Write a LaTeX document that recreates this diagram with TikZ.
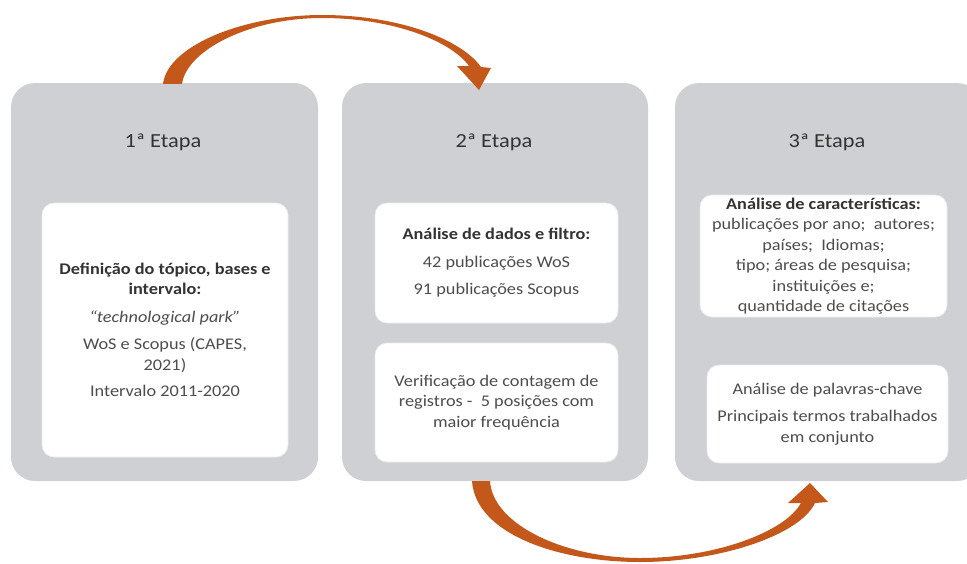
\documentclass[tikz,border=0pt]{standalone}
\usepackage{fontspec}
\setmainfont{Carlito}[FakeStretch=1.12]
\usetikzlibrary{calc}
\definecolor{panelgray}{HTML}{CFD0D3}
\definecolor{arrowc}{HTML}{C4581B}
\definecolor{txt}{HTML}{4D4D4D}
\definecolor{txtb}{HTML}{333333}
\begin{document}
\begin{tikzpicture}[x=1pt,y=-1pt,
  panel/.style={rectangle, rounded corners=24pt, fill=panelgray, draw=none, inner sep=0pt},
  inbox/.style={rectangle, rounded corners=12pt, fill=white, draw=gray!15, line width=0.6pt,
    inner sep=0pt, align=center, text=txt, font=\fontsize{16.3}{20.5}\selectfont},
  title/.style={anchor=base, text=txtb, font=\fontsize{20}{22}\selectfont},
  hd/.style={text=txtb}]
\useasboundingbox (0,0) rectangle (967,563);
% panels
\node[panel, minimum width=307pt, minimum height=398pt] (p1) at (164.5,282) {};
\node[panel, minimum width=306pt, minimum height=398pt] (p2) at (495,282) {};
\node[panel, minimum width=306pt, minimum height=398pt] (p3) at (828,282) {};
% titles
\node[title] (t1) at (163,147) {1ª Etapa};
\node[title] (t2) at (494,147) {2ª Etapa};
\node[title] (t3) at (827,147) {3ª Etapa};
% inner boxes
\node[inbox, minimum width=246pt, minimum height=254pt] (b1) at (165,330)
  {\textbf{\color{txtb}Definição do tópico, bases e}\\\textbf{\color{txtb}intervalo:}\\[7pt]
   \textit{“technological park”}\\[7pt]
   WoS e Scopus (CAPES,\\2021)\\[6pt]
   Intervalo 2011-2020};
\node[inbox, minimum width=243pt, minimum height=120pt] (b2a) at (496.5,263)
  {\textbf{\color{txtb}Análise de dados e filtro:}\\[7pt]
   42 publicações WoS\\[7pt]
   91 publicações Scopus};
\node[inbox, minimum width=243pt, minimum height=119pt] (b2b) at (496.5,402.5)
  {Verificação de contagem de\\registros -\ \ 5 posições com\\maior frequência};
\node[inbox, minimum width=247pt, minimum height=122pt] (b3a) at (823.5,256)
  {\textbf{\color{txtb}Análise de características:}\\
   publicações por ano;\ \ autores;\\
   países;\ \ Idiomas;\\
   tipo; áreas de pesquisa;\\
   instituições e;\\
   quantidade de citações};
\node[inbox, minimum width=241pt, minimum height=98pt] (b3b) at (827.5,414)
  {Análise de palavras-chave\\[7pt]
   Principais termos trabalhados\\em conjunto};
% arrows (tapered)
\coordinate (a1) at ($(p1.north)+(8,1)$);
\coordinate (a2) at ($(p2.north)+(-16,0)$);
\fill[arrowc] ($(a1)+(-9.5,0)$) .. controls (168,45) and (245,15) .. (322,15)
   .. controls (400,15) and (462,40) .. (481,67)
   -- (491,68) -- (479,90) -- (457,66) -- (469,66)
   .. controls (452,42) and (395,18) .. (322,18)
   .. controls (250,18) and (187,50) .. ($(a1)+(9.5,0)$) -- cycle;
\coordinate (c1) at ($(p2.south)+(-14,0)$);
\coordinate (c2) at ($(p3.south)+(-18,0)$);
\fill[arrowc] ($(c1)+(-9,0)$) .. controls (476,535) and (560,562) .. (640,562)
   .. controls (720,562) and (800,535) .. (815,503)
   -- (828,502) -- (810,483) -- (788,503) -- (801,503)
   .. controls (785,532) and (715,558) .. (640,558)
   .. controls (565,558) and (493,525) .. ($(c1)+(9,0)$) -- cycle;
\end{tikzpicture}
\end{document}
